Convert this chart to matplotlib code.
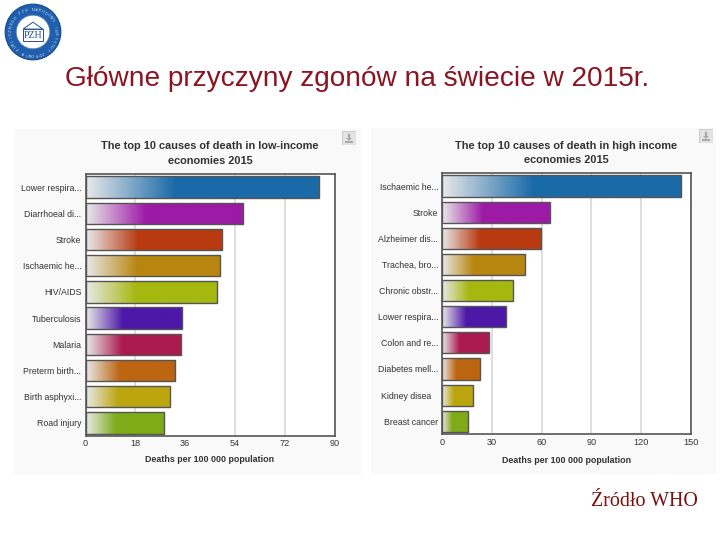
import numpy as np
import matplotlib
matplotlib.use('Agg')
import matplotlib.pyplot as plt
from matplotlib.patches import Circle, Rectangle, Polygon
from matplotlib.colors import LinearSegmentedColormap

plt.rcParams['font.family'] = ['Liberation Sans', 'DejaVu Sans']

W, H = 720, 540

low_labels = ['Lower respira...', 'Diarrhoeal di...', 'Stroke', 'Ischaemic he...', 'HIV/AIDS',
              'Tuberculosis', 'Malaria', 'Preterm birth...', 'Birth asphyxi...', 'Road injury']
low_values = [84.5, 57, 49.5, 48.6, 47.6, 34.8, 34.4, 32.2, 30.6, 28.5]
low_ticks = [0, 18, 36, 54, 72, 90]

high_labels = ['Ischaemic he...', 'Stroke', 'Alzheimer dis...', 'Trachea, bro...', 'Chronic obstr...',
               'Lower respira...', 'Colon and re...', 'Diabetes mell...', 'Kidney disea   ', 'Breast cancer']
high_values = [143.9, 64.8, 59.5, 49.9, 42.6, 38.3, 28, 22.9, 18.3, 15.8]
high_ticks = [0, 30, 60, 90, 120, 150]

bar_colors = ['#1a6aa8', '#9c1aa5', '#b93a10', '#b8860f', '#a6b80f',
              '#4c18a8', '#ab1a4c', '#bc640f', '#bca60f', '#7fab18']

fig = plt.figure(figsize=(W / 100, H / 100), dpi=100, facecolor='white')


def px_axes(x0, y0, x1, y1):
    # pixel box measured from the top left of the picture
    return fig.add_axes([x0 / W, 1 - y1 / H, (x1 - x0) / W, (y1 - y0) / H])


def panel(box, plot, title, title_y, labels, values, ticks, icon, xlabel_pad, hidden_grid=()):
    bg = px_axes(*box)
    bg.axis('off')
    bg.add_patch(Rectangle((0, 0), 1, 1, transform=bg.transAxes, color='#f9f9f9'))

    ax = px_axes(*plot)
    ax.set_facecolor('white')
    ax.set_axisbelow(True)
    ax.set_xticks(ticks)
    ax.grid(axis='x', color='#d4d4d4', lw=1.1)
    for k in hidden_grid:
        ax.get_xgridlines()[k].set_visible(False)
    bars = ax.barh(range(len(values)), values, height=0.81, color='none', edgecolor='#555555',
                   lw=1.0, zorder=4)
    for i, (bar, c) in enumerate(zip(bars, bar_colors)):
        cmap = LinearSegmentedColormap.from_list('g', [(0, '#e8e8e8'), (0.38, c), (1, c)])
        im = ax.imshow(np.linspace(0, 1, 200).reshape(1, -1), cmap=cmap, aspect='auto',
                       extent=[0, values[i], i + 0.405, i - 0.405], zorder=3)
        im.set_clip_path(bar)
    ax.set_xlim(ticks[0], ticks[-1])
    ax.set_ylim(len(values) - 0.5, -0.5)
    ax.set_yticks(range(len(labels)))
    ax.set_yticklabels(labels)
    ax.tick_params(axis='y', length=0, labelsize=6.3, labelcolor='#333333', pad=3)
    ax.tick_params(axis='x', length=0, labelsize=6.6, labelcolor='#333333', pad=2.5)
    ax.set_xlabel('Deaths per 100 000 population', fontsize=6.4, fontweight='bold', color='#333333',
                  labelpad=xlabel_pad)
    for s in ax.spines.values():
        s.set_color('#555555')
        s.set_linewidth(1.2)
    fig.text((plot[0] + plot[2]) / 2 / W, 1 - title_y / H, title, ha='center', va='center', fontsize=7.95,
             fontweight='bold', color='#333333', linespacing=1.6)

    # export icon in the corner
    ix = px_axes(*icon)
    ix.set_xlim(0, 1)
    ix.set_ylim(0, 1)
    ix.axis('off')
    ix.add_patch(Rectangle((0.03, 0.03), 0.94, 0.94, fc='#e4e4e4', ec='#cccccc', lw=0.8))
    ix.add_patch(Polygon([(0.42, 0.8), (0.58, 0.8), (0.58, 0.5), (0.72, 0.5), (0.5, 0.3), (0.28, 0.5), (0.42, 0.5)],
                         fc='#aaaaaa', ec='none'))
    ix.add_patch(Rectangle((0.2, 0.17), 0.6, 0.1, fc='#aaaaaa', ec='none'))


panel((14, 129, 361, 475), (85.5, 174, 334.5, 436),
      'The top 10 causes of death in low-income\neconomies 2015', 153.5,
      low_labels, low_values, low_ticks, (342, 131, 356, 145), 5, hidden_grid=[2])
panel((371, 128, 716, 474), (442.3, 173, 690.7, 434.3),
      'The top 10 causes of death in high income\neconomies 2015', 153,
      high_labels, high_values, high_ticks, (699, 129, 713, 143), 6.5)

# logo top left
logo = px_axes(4, 3, 62, 61)
logo.set_xlim(-1, 1)
logo.set_ylim(-1, 1)
logo.axis('off')
logo.add_patch(Circle((0, 0), 0.96, fc='#1f5fae', ec='#17488c', lw=0.8))
logo.add_patch(Circle((0, 0), 0.58, fc='white', ec='#5a7fb8', lw=0.6))
ring_text = 'NARODOWY INSTYTUT ZDROWIA PUBLICZNEGO PZH '
for k, ch in enumerate(ring_text):
    ang = np.pi / 2 - 2 * np.pi * k / len(ring_text)
    logo.text(0.77 * np.cos(ang), 0.77 * np.sin(ang), ch, ha='center', va='center', fontsize=2.6, color='#dce6f5',
              rotation=np.degrees(ang) - 90, rotation_mode='anchor')
logo.add_patch(Polygon([(-0.34, 0.1), (0, 0.34), (0.34, 0.1)], fc='none', ec='#2a4f90', lw=0.7))
logo.add_patch(Rectangle((-0.36, -0.32), 0.72, 0.42, fc='none', ec='#2a4f90', lw=0.7))
logo.text(0, -0.11, 'PZH', ha='center', va='center', fontsize=7, family='Liberation Serif', color='#2a4f90')

fig.text(65 / W, 1 - 79 / H, 'Główne przyczyny zgonów na świecie w 2015r.', fontsize=20.2, color='#8a1420',
         ha='left', va='center')
fig.text(698 / W, 1 - 502 / H, 'Źródło WHO', fontsize=14.4, family='Liberation Serif', color='#7a1010',
         ha='right', va='center')

fig.savefig('out.png', dpi=100)
